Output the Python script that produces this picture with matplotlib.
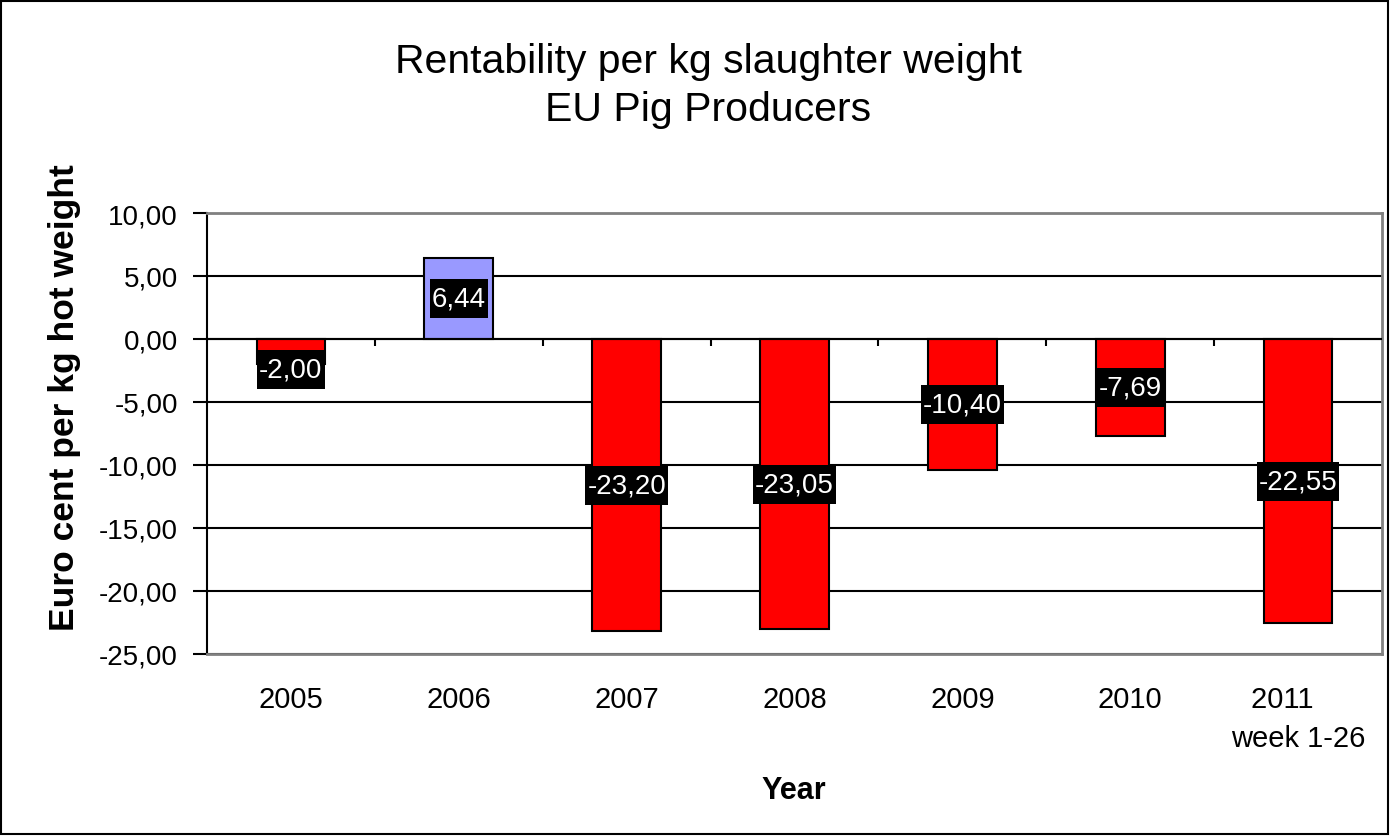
import numpy as np
import matplotlib
matplotlib.use("Agg")
import matplotlib.pyplot as plt
from matplotlib.patches import Rectangle

plt.rcParams["font.family"] = ["Liberation Sans", "DejaVu Sans"]

# data
years = ["2005", "2006", "2007", "2008", "2009", "2010", "2011    \nweek 1-26"]
values = [-2.00, 6.44, -23.20, -23.05, -10.40, -7.69, -22.55]
labels = ["-2,00", "6,44", "-23,20", "-23,05", "-10,40", "-7,69", "-22,55"]

pos_color = "#9999FF"
neg_color = "#FF0000"

W, H = 1391, 837
fig = plt.figure(figsize=(W / 100, H / 100), dpi=100)
ax = fig.add_axes([207 / W, 1 - 655 / H, 1175 / W, 441 / H])

x = np.arange(len(values))
colors = [pos_color if v > 0 else neg_color for v in values]
ax.bar(x, values, width=0.41, color=colors, edgecolor="black", linewidth=1.5, zorder=3)

ax.set_xlim(-0.5, len(values) - 0.5)
ax.set_ylim(-25, 10)
yt = np.arange(-25, 11, 5)
ax.set_yticks(yt)
ax.set_yticklabels([f"{t:.2f}".replace(".", ",") for t in yt], fontsize=20)
ax.yaxis.grid(True, color="black", linewidth=1.5, zorder=1)
ax.tick_params(axis="y", direction="out", length=10, width=1.5, pad=11)

# category labels below plot, no ticks on bottom
ax.set_xticks(x)
ax.set_xticklabels(years, fontsize=21, linespacing=1.5)
ax.tick_params(axis="x", length=0, pad=22)

# zero line with small tick marks between categories
ax.axhline(0, color="black", linewidth=1.5, zorder=4)
ax.vlines(np.arange(1, len(values)) - 0.5, -0.55, 0, color="black", linewidth=1.5, zorder=4)

for side in ["top", "right", "bottom"]:
    ax.spines[side].set_color("#808080")
    ax.spines[side].set_linewidth(2)
ax.spines["left"].set_color("black")
ax.spines["left"].set_linewidth(1.5)

# data labels (black box drawn after measuring the text)
texts = []
for xi, v, lab in zip(x, values, labels):
    y = np.sign(v) * max(abs(v) / 2, 2.4)
    texts.append(ax.text(xi, y, lab, ha="center", va="center", color="white",
                         fontsize=20, zorder=6))

fig.text(0.509, 1 - 62 / H, "Rentability per kg slaughter weight", ha="center", va="center", fontsize=29.5)
fig.text(0.509, 1 - 110 / H, "EU Pig Producers", ha="center", va="center", fontsize=29.5)
fig.text(65 / W, 1 - 398 / H, "Euro cent per kg hot weight", rotation=90,
         ha="center", va="center", fontsize=25.5, fontweight="bold")
fig.text(794 / W, 1 - 791 / H, "Year", ha="center", va="center", fontsize=22, fontweight="bold")

fig.canvas.draw()
renderer = fig.canvas.get_renderer()
for t in texts:
    bb = t.get_window_extent(renderer)
    cx = (bb.x0 + bb.x1) / 2
    cy = (bb.y0 + bb.y1) / 2
    bw = bb.width + 4
    bh = 39
    fig.patches.append(Rectangle(((cx - bw / 2) / W, (cy - bh / 2) / H), bw / W, bh / H,
                                 transform=fig.transFigure, facecolor="black",
                                 edgecolor="none", zorder=5))
    t.remove()
    fig.text(cx / W, cy / H, t.get_text(), ha="center", va="center", color="white",
             fontsize=20, zorder=6)

fig.patches.append(Rectangle((0.001, 0.002), 0.997, 0.996, transform=fig.transFigure,
                             fill=False, edgecolor="black", linewidth=1.5))

fig.savefig("out.png", dpi=100)
